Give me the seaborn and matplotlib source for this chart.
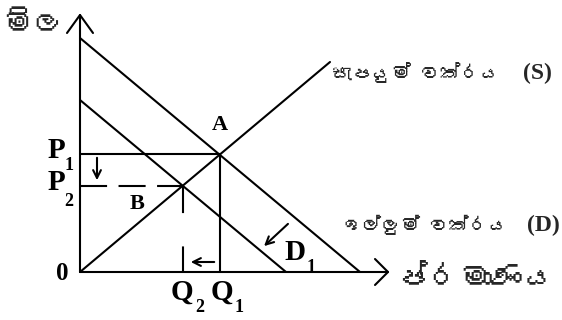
import numpy as np
import pandas as pd
import matplotlib
matplotlib.use('Agg')
import matplotlib.pyplot as plt
import seaborn as sns
from matplotlib import font_manager, ft2font

# Curve end points (units: px from origin)
demand_x = [0, 280]
demand_y = [234, 0]
demand1_x = [0, 206]
demand1_y = [172, 0]
supply_x = [0, 250]
supply_y = [0, 210]

# Equilibrium points
q1, p1 = 140, 118
q2, p2 = 103, 86.5

# Labels (no ZWJ, matplotlib can't shape it anyway)
price_label = 'මිල'
quantity_label = 'ප්රමාණය'
supply_label = 'සැපයුම් වක්රය'
demand_label = 'ඉල්ලුම් වක්රය'


# Find a family that has Sinhala glyphs (if any)
def sinhala_family():
    for f in font_manager.fontManager.ttflist:
        try:
            if 0x0DB8 in ft2font.FT2Font(f.fname).get_charmap():
                return f.name
        except Exception:
            pass
    return None


sns.set_style('white')
sin_fam = sinhala_family()
serif = ['Liberation Serif', 'DejaVu Serif']
sin = ([sin_fam] if sin_fam else []) + serif

fig = plt.figure(figsize=(5.62, 3.2), dpi=100)
ax = fig.add_axes([0, 0, 1, 1])
ax.set_xlim(-80, 482)
ax.set_ylim(-48, 272)
ax.axis('off')

lw = 1.5
kw = dict(color='black', lw=lw, estimator=None, sort=False, ax=ax)

# Axes with open arrow heads
sns.lineplot(x=[0, 0], y=[0, 257], **kw)
sns.lineplot(x=[-13, 0, 13], y=[239, 257, 239], **kw)
sns.lineplot(x=[0, 308], y=[0, 0], **kw)
sns.lineplot(x=[295, 308, 295], y=[13, 0, -13], **kw)

# Curves
sns.lineplot(x=demand_x, y=demand_y, **kw)
sns.lineplot(x=demand1_x, y=demand1_y, **kw)
sns.lineplot(x=supply_x, y=supply_y, **kw)

# Guide lines
sns.lineplot(x=[0, q1], y=[p1, p1], **kw)
sns.lineplot(x=[q1, q1], y=[p1, 0], **kw)
sns.lineplot(x=[0, q2], y=[p2, p2], linestyle=(0, (13, 5.5)), **kw)
sns.lineplot(x=[q2, q2], y=[p2, 0], linestyle=(0, (13, 16)), **kw)

# Shift arrows
arr = dict(arrowstyle='->', color='black', lw=lw, mutation_scale=14)
ax.annotate('', xy=(17, 89), xytext=(17, 117), arrowprops=arr)
ax.annotate('', xy=(108, 10), xytext=(137, 10), arrowprops=arr)
ax.annotate('', xy=(182, 24), xytext=(210, 50), arrowprops=arr)

bold = dict(family=serif, fontweight='bold', color='black', ha='center', va='center')
ax.text(q1, 147, 'A', fontsize=16, **bold)
ax.text(57, 68, 'B', fontsize=16, **bold)
ax.text(-18, -1, '0', fontsize=18, **bold)
ax.text(-24, 122, 'P', fontsize=21, **bold)
ax.text(-11, 106, '1', fontsize=13, **bold)
ax.text(-24, 89, 'P', fontsize=21, **bold)
ax.text(-11, 71, '2', fontsize=13, **bold)
ax.text(102, -20, 'Q', fontsize=21, **bold)
ax.text(120, -35, '2', fontsize=13, **bold)
ax.text(142, -20, 'Q', fontsize=21, **bold)
ax.text(159, -35, '1', fontsize=13, **bold)
ax.text(215, 19, 'D', fontsize=21, **bold)
ax.text(231, 4, '1', fontsize=13, **bold)
ax.text(552 - 80, 199, '(S)', fontsize=17, family=serif, fontweight='bold',
        ha='right', va='center')
ax.text(560 - 80, 47, '(D)', fontsize=17, family=serif, fontweight='bold',
        ha='right', va='center')

# Sinhala labels, sized to the room they have in the figure
renderer = fig.canvas.get_renderer()


def fit_text(x, y, s, width, weight='normal'):
    t = ax.text(x, y, s, ha='left', va='center', fontsize=15, family=sin,
                fontweight=weight)
    w = t.get_window_extent(renderer).width
    t.set_fontsize(15 * width / w)
    return t


fit_text(-78, 247, price_label, 62, 'bold')
fit_text(316, -6, quantity_label, 160, 'bold')
fit_text(252, 199, supply_label, 168)
fit_text(262, 47, demand_label, 166)

fig.savefig('out.png', dpi=100)
